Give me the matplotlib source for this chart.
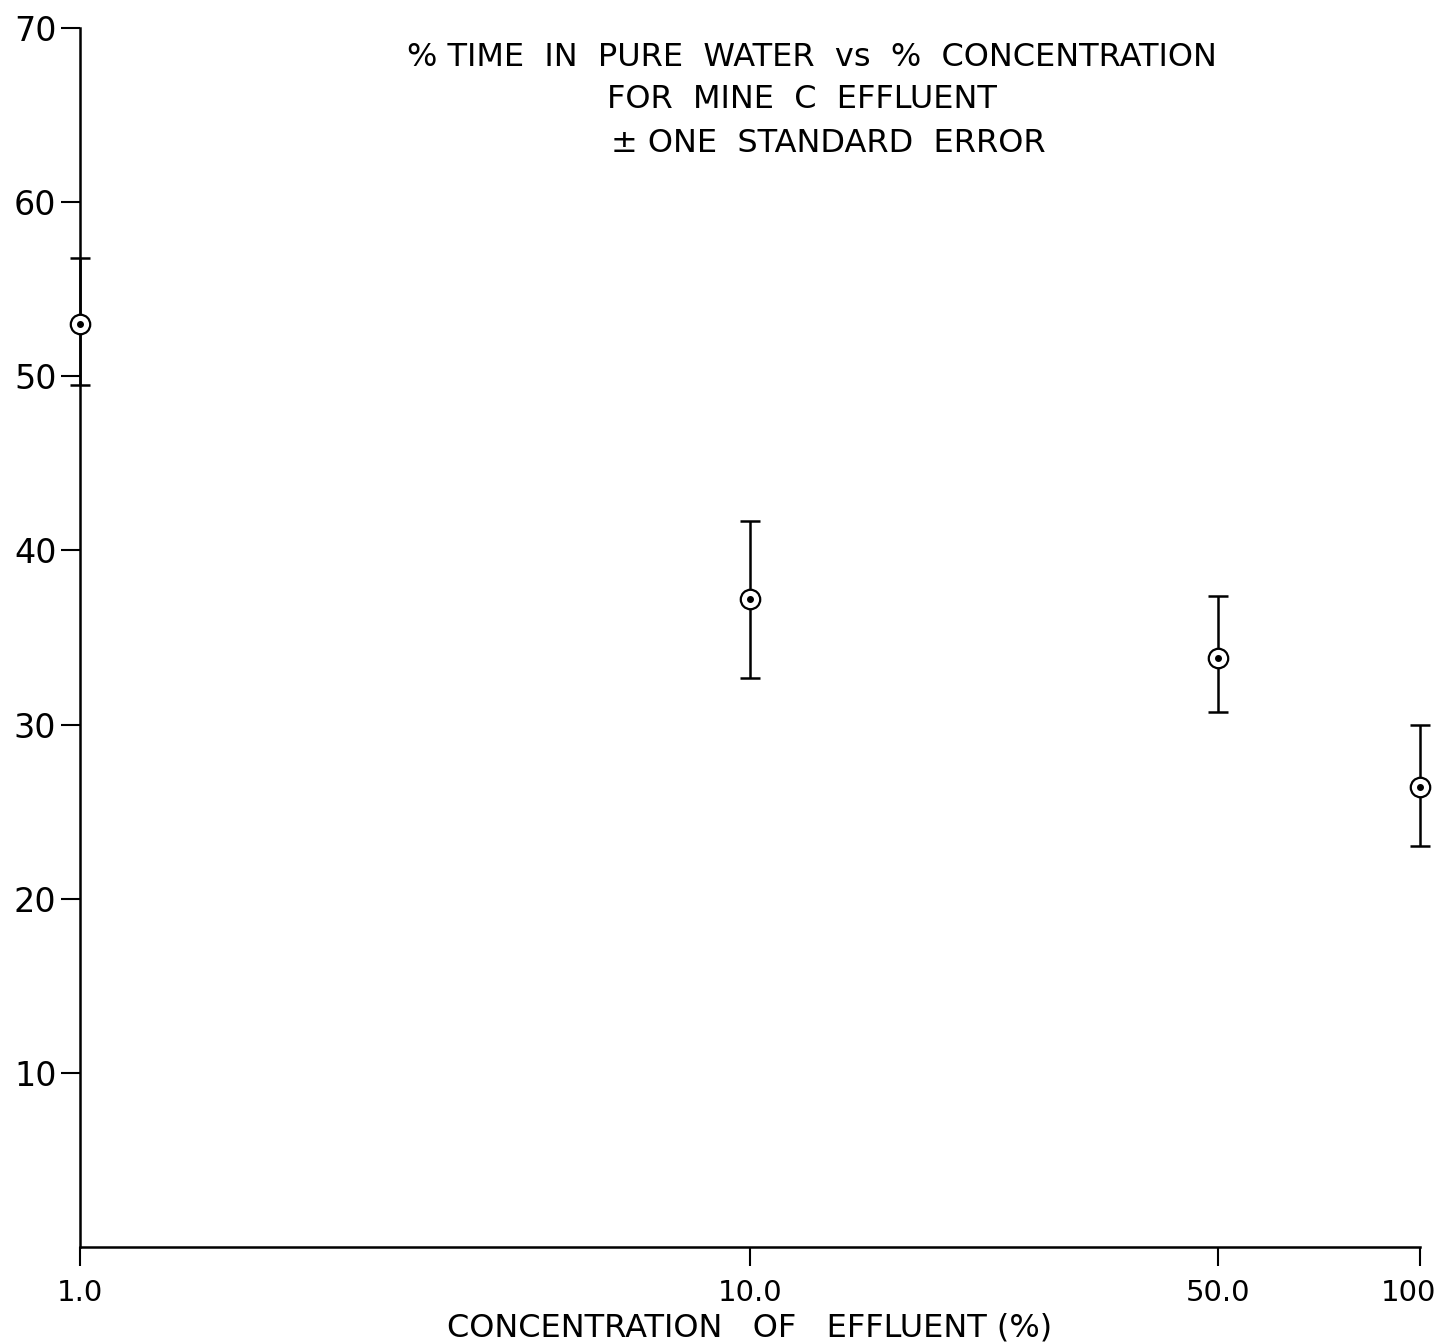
import matplotlib
matplotlib.use("Agg")
import matplotlib.pyplot as plt
import matplotlib.transforms as mtransforms
import numpy as np

# Concentration of effluent (%) and percent time spent in pure water
concentration = [1.0, 10.0, 50.0, 100.0]
pct_time = [53.0, 37.2, 33.8, 26.4]
err_low = [49.5, 32.7, 30.7, 23.0]
err_high = [56.8, 41.7, 37.4, 30.0]

x_ticks = [1.0, 10.0, 50.0, 100.0]
x_tick_labels = ["1.0", "10.0", "50.0", "100"]
y_ticks = [10, 20, 30, 40, 50, 60, 70]

title_lines = ["% TIME  IN  PURE  WATER  vs  %  CONCENTRATION",
               "FOR  MINE  C  EFFLUENT",
               "± ONE  STANDARD  ERROR"]

plt.rcParams["font.family"] = ["DejaVu Sans"]

W, H = 1442, 1342
fig = plt.figure(figsize=(W / 100, H / 100), dpi=100)
ax = fig.add_axes([80 / W, 1 - 1247 / H, (1420 - 80) / W, (1247 - 28) / H])

ax.set_xscale("log")
ax.set_xlim(1.0, 100.0)
ax.set_ylim(0, 70)

yerr = np.array([np.array(pct_time) - np.array(err_low),
                 np.array(err_high) - np.array(pct_time)])
ax.errorbar(concentration, pct_time, yerr=yerr, fmt="none", ecolor="black",
            elinewidth=1.8, capsize=7.5, capthick=1.8, zorder=3, clip_on=False)
ax.plot(concentration, pct_time, linestyle="none", marker="o", markersize=14,
        markerfacecolor="white", markeredgecolor="black", markeredgewidth=1.6,
        zorder=4, clip_on=False)
ax.plot(concentration, pct_time, linestyle="none", marker="o", markersize=4,
        color="black", zorder=5, clip_on=False)

for side in ("top", "right"):
    ax.spines[side].set_visible(False)
for side in ("left", "bottom"):
    ax.spines[side].set_linewidth(1.8)

ax.set_xticks(x_ticks)
ax.set_xticklabels(x_tick_labels)
ax.xaxis.set_minor_locator(matplotlib.ticker.NullLocator())
ax.set_yticks(y_ticks)
ax.set_yticklabels([str(v) for v in y_ticks])
ax.tick_params(axis="both", direction="out", length=14, width=1.5)
ax.tick_params(axis="y", labelsize=24, pad=3)
ax.tick_params(axis="x", labelsize=21, pad=9)

# keep the last x label inside the canvas
last = ax.get_xticklabels()[-1]
last.set_transform(last.get_transform() +
                   mtransforms.ScaledTranslation(-12 / 100, 0, fig.dpi_scale_trans))

ax.set_xlabel("CONCENTRATION   OF   EFFLUENT (%)", fontsize=23, labelpad=4)

for line, cx, cy in zip(title_lines, [812, 802, 828], [57, 99, 143]):
    fig.text(cx / W, 1 - cy / H, line, ha="center", va="center", fontsize=23)

fig.savefig("out.png", dpi=100, facecolor="white")
